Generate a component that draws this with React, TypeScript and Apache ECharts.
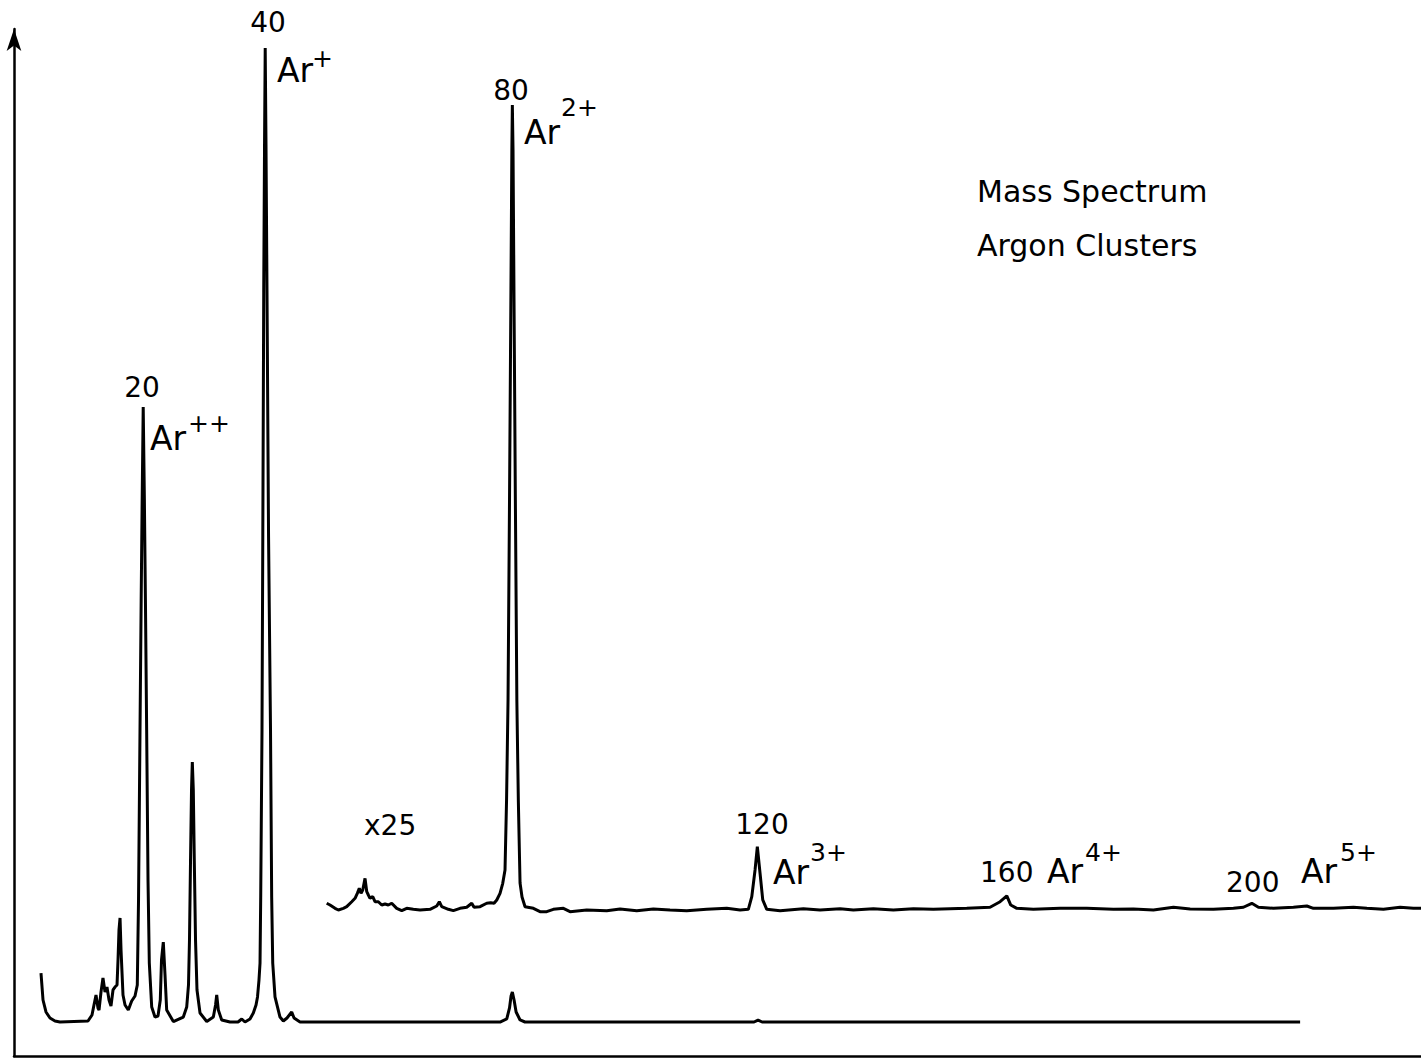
import React, { useEffect, useRef } from "react";
import * as echarts from "echarts";

// ---- Lower trace (gain x1): mass (amu) and intensity (Ar+ peak = 100)
const lowerMass = [
  3.44, 3.77, 4.25, 4.9, 5.71, 6.52, 11.07, 11.72, 12.04, 12.37, 12.69, 12.86, 13.18, 13.5,
  13.83, 14.15, 14.48, 14.8, 15.13, 15.45, 15.78, 15.94, 16.1, 16.27, 16.43, 16.75, 17.08,
  17.61, 18.16, 18.7, 19.07, 19.27, 19.51, 19.7, 19.86, 20.03, 20.22, 20.39, 20.59, 20.81,
  21.02, 21.41, 21.94, 22.43, 22.8, 23.0, 23.29, 23.57, 23.84, 24.92, 26.54, 27.09,
  27.38, 27.54, 27.71, 27.87, 28.0, 28.16, 28.32, 28.52, 28.76,
  29.25, 30.34, 31.41, 31.77, 31.96, 32.22, 32.77, 34.12,
  35.42, 36.02, 36.55, 37.36, 37.9, 38.34, 38.58, 38.82, 38.99, 39.1, 39.31, 39.44, 39.59,
  39.72, 39.83, 39.96, 40.12, 40.37, 40.69, 40.88, 41.05, 41.42, 42.23, 42.77, 43.37, 44.13,
  44.51, 45.48, 77.94, 79.03, 79.48, 79.73, 79.94, 80.22, 80.55, 81.19, 81.99, 119.17,
  119.82, 120.47, 207.79,
];
const lowerIntensity = [
  5.03, 2.26, 1.03, 0.41, 0.1, 0, 0.1, 0.72, 1.75, 2.77, 1.44, 1.23, 3.08, 4.52,
  3.08, 3.59, 2.26, 1.64, 3.29, 3.59, 3.8, 6.37, 9.45, 10.68, 7.39, 2.77, 1.75,
  1.23, 2.16, 2.67, 3.8, 12.53, 29.98, 43.33, 53.59, 63.14, 53.59, 43.33, 29.98, 14.58,
  6.06, 1.54, 0.51, 0.62, 2.26, 6.37, 8.21, 4.83, 1.23, 0.05, 0.51, 1.54,
  3.8, 8.42, 16.63, 23.82, 26.69, 23.82, 16.63, 8.42, 3.29,
  0.92, 0.05, 0.51, 1.75, 2.77, 1.23, 0.21, 0,
  0, 0.31, 0, 0.31, 0.92, 1.75, 2.57, 4.31, 6.06, 12.83, 29.98, 50.0, 75.0,
  90.0, 100, 90.0, 75.0, 50.0, 30.0, 12.8, 6.06, 2.57, 0.51, 0.1, 0.41, 1.03,
  0.41, 0, 0, 0.31, 1.44, 2.67, 3.08, 2.26, 1.03, 0.21, 0, 0,
  0.2, 0, 0,
];

// ---- Upper trace (gain x25): mass and intensity above its own baseline
const upperMass = [
  49.81, 50.35, 51.16, 51.7, 52.51, 53.06, 53.87, 54.41, 54.78, 55.1, 55.38, 55.66, 56.03,
  56.31, 56.57, 56.84, 57.28, 57.65, 58.19, 58.74, 59.28, 59.81, 60.36, 61.17, 61.99, 62.8,
  63.87, 64.96, 66.58, 67.67, 68.09, 68.48, 69.55, 70.36, 71.45, 72.54, 73.35, 73.72, 74.7,
  75.78, 76.43, 76.97, 77.41, 77.94, 78.38, 78.75, 79.0, 79.24, 79.48, 79.7, 79.86, 79.94,
  80.05, 80.21, 80.43, 80.67, 80.91, 81.11, 81.19, 81.51, 82.0, 83.35, 84.43, 85.52, 86.59,
  88.22, 89.3, 92.01, 95.26, 97.42, 100.13, 102.82, 105.53, 108.24, 111.49, 114.74, 116.9,
  118.24, 118.8, 119.33, 119.7, 120.14, 120.58, 121.23, 123.39, 127.17, 129.88, 133.13,
  135.29, 138.53, 141.78, 145.03, 148.27, 153.69, 157.47, 159.1, 160.19, 160.83, 161.81,
  164.5, 168.84, 173.17, 177.49, 180.73, 183.98, 187.23, 189.94, 193.72, 196.97, 198.59,
  199.95, 201.02, 203.46, 206.7, 208.88, 209.95, 213.2, 216.44, 218.62, 221.31, 224.02,
  226.18, 227.43,
];
const upperIntensity = [
  0.69, 0.51, 0.17, 0, 0.17, 0.34, 0.85, 1.2, 1.71, 2.23, 1.71, 2.05, 3.25,
  1.88, 1.54, 1.2, 1.37, 0.85, 0.85, 0.51, 0.62, 0.51, 0.69, 0.17, -0.07, 0.17,
  0.07, 0, 0.07, 0.41, 0.85, 0.34, 0.07, -0.07, 0.17, 0.28, 0.69, 0.28, 0.34,
  0.69, 0.75, 0.69, 1.03, 1.71, 2.74, 4.11, 11.29, 21.56, 42.09, 62.63, 78.03, 82.65,
  78.03, 62.63, 42.09, 21.56, 11.29, 5.13, 2.77, 1.33, 0.34, 0.17, -0.17, -0.17, 0.07,
  0.17, -0.17, 0, -0.07, 0.1, -0.07, 0.1, 0, -0.07, 0.07, 0.17, 0,
  0.07, 1.37, 4.11, 6.5, 3.77, 1.03, 0.07, -0.07, 0.13, 0, 0.13,
  0, 0.13, 0, 0.13, 0.07, 0.17, 0.28, 0.85, 1.44, 0.51, 0.17,
  0.07, 0.17, 0.17, 0.07, 0.1, 0, 0.28, 0.1, 0.07, 0.17, 0.28,
  0.69, 0.28, 0.17, 0.28, 0.41, 0.17, 0.17, 0.28, 0.17, 0.07, 0.28,
  0.17, 0.17,
];
const UPPER_OFFSET = 11.5; // vertical displacement of the x25 trace

// ---- Annotation texts
const peakNumbers = ["20", "40", "80", "120", "160", "200"];
const ionNames = ["Ar", "Ar", "Ar", "Ar", "Ar", "Ar"];
const ionCharges = ["++", "+", "2+", "3+", "4+", "5+"];
const gainLabel = "x25";
const titleLines = ["Mass Spectrum", "Argon Clusters"];

// ---- Layout (pixel positions of annotations)
const numberLayout: [number, number, string][] = [
  [142, 387, "center"],
  [268, 22, "center"],
  [511, 90, "center"],
  [762, 824, "center"],
  [980, 872, "left"],
  [1226, 882, "left"],
];
const ionLayout: [number, number][] = [
  [150, 438],
  [277, 70],
  [524, 132],
  [773, 872],
  [1047, 871],
  [1301, 871],
];
const chargeLayout: [number, number][] = [
  [188, 423],
  [312, 58],
  [561, 107],
  [810, 852],
  [1085, 852],
  [1340, 852],
];
const gainLayout: [number, number] = [364, 825];
const titleLayout: [number, number][] = [
  [977, 191],
  [977, 245],
];

const FONT = "DejaVu Sans";

export default function App() {
  const ref = useRef<HTMLDivElement>(null);

  useEffect(() => {
    if (!ref.current) return;
    const chart = echarts.init(ref.current, undefined, { renderer: "svg" });

    const lowerData = lowerMass.map((m, i) => [m, lowerIntensity[i]]);
    const upperData = upperMass.map((m, i) => [m, upperIntensity[i] + UPPER_OFFSET]);

    const texts: any[] = [];
    const txt = (x: number, y: number, text: string, size: number, align = "left") => ({
      type: "text",
      x,
      y,
      silent: true,
      style: {
        text,
        font: `${size}px "${FONT}"`,
        fill: "#000",
        textAlign: align,
        textVerticalAlign: "middle",
      },
    });
    peakNumbers.forEach((t, i) => {
      const [x, y, a] = numberLayout[i];
      texts.push(txt(x, y, t, 28, a));
    });
    ionNames.forEach((t, i) => {
      const [x, y] = ionLayout[i];
      texts.push(txt(x, y, t, 33));
    });
    ionCharges.forEach((t, i) => {
      const [x, y] = chargeLayout[i];
      texts.push(txt(x, y, t, 25));
    });
    texts.push(txt(gainLayout[0], gainLayout[1], gainLabel, 28));
    titleLines.forEach((t, i) => {
      const [x, y] = titleLayout[i];
      texts.push(txt(x, y, t, 30));
    });

    const lineStyle = { color: "#000", width: 3 };

    chart.setOption({
      animation: false,
      backgroundColor: "#fff",
      grid: { left: 14, right: 0, top: 29, bottom: 2, containLabel: false },
      xAxis: {
        type: "value",
        min: -0.94,
        max: 227.41,
        axisLine: { show: true, onZero: false, lineStyle: { color: "#000", width: 2.5 } },
        axisTick: { show: false },
        axisLabel: { show: false },
        splitLine: { show: false },
      },
      yAxis: {
        type: "value",
        min: -3.49,
        max: 101.95,
        axisLine: {
          show: true,
          onZero: false,
          symbol: ["none", "arrow"],
          symbolSize: [11, 22],
          lineStyle: { color: "#000", width: 2.5 },
        },
        axisTick: { show: false },
        axisLabel: { show: false },
        splitLine: { show: false },
      },
      series: [
        {
          type: "line",
          name: "x1",
          data: lowerData,
          showSymbol: false,
          symbol: "none",
          silent: true,
          lineStyle,
        },
        {
          type: "line",
          name: "x25",
          data: upperData,
          showSymbol: false,
          symbol: "none",
          silent: true,
          lineStyle,
        },
      ],
      graphic: texts,
    });

    return () => chart.dispose();
  }, []);

  return (
    <div
      ref={ref}
      style={{
        position: "fixed",
        left: 0,
        top: 0,
        width: 1421,
        height: 1058,
        background: "#fff",
      }}
    />
  );
}
